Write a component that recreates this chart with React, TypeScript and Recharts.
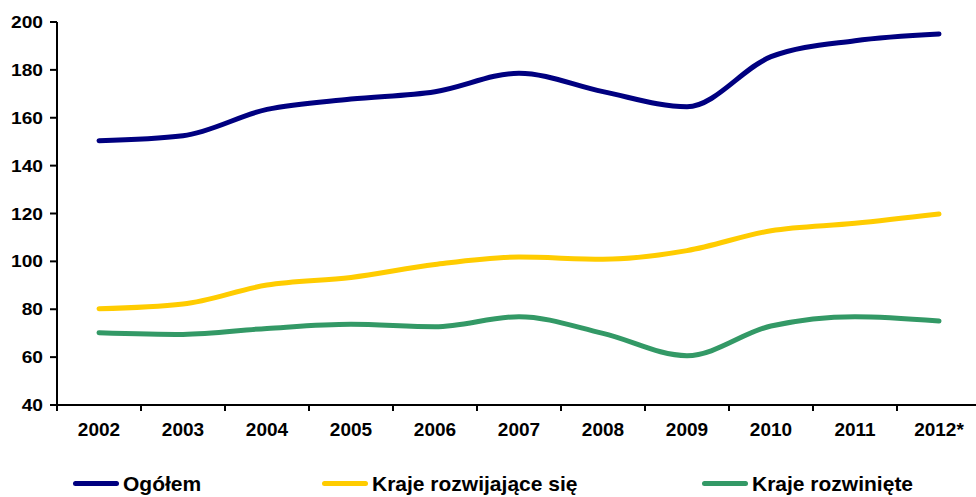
import React from "react";
import { LineChart, Line, XAxis, YAxis, Legend } from "recharts";

const years = ["2002", "2003", "2004", "2005", "2006", "2007", "2008", "2009", "2010", "2011", "2012*"];
const ogolem = [150.4, 152.5, 163.5, 167.8, 170.9, 178.6, 170.9, 164.6, 185.5, 192.2, 195];
const rozwijajace = [80.2, 82.2, 90.1, 93.3, 98.7, 101.8, 100.9, 104.5, 112.8, 115.9, 119.8];
const rozwiniete = [70.2, 69.5, 72, 73.7, 72.7, 76.9, 69.9, 60.6, 73, 76.9, 75.1];
const yTicks = [40, 60, 80, 100, 120, 140, 160, 180, 200];
const seriesNames = ["Ogółem", "Kraje rozwijające się", "Kraje rozwinięte"];
const seriesColors = ["#000080", "#FFCC00", "#339966"];

const data = years.map((y, i) => ({
  x: i + 0.5,
  year: y,
  ogolem: ogolem[i],
  rozwijajace: rozwijajace[i],
  rozwiniete: rozwiniete[i],
}));

const CHART_W = 981;
const CHART_H = 497;
const Y_AXIS_W = 57;
const BAND = (CHART_W - Y_AXIS_W) / years.length;
const FONT = "'Liberation Sans', Arial, sans-serif";

const YTick = (props: any) => {
  const { x, y, payload } = props;
  return (
    <g transform={`translate(${x - 5},${y})`}>
      <text
        transform="scale(1.13,1)"
        textAnchor="end"
        dy="0.36em"
        fontFamily={FONT}
        fontWeight="bold"
        fontSize={17}
        fill="#000"
      >
        {payload.value}
      </text>
    </g>
  );
};

const XTick = (props: any) => {
  const { x, y, payload } = props;
  const idx = Math.round(payload.value);
  if (idx >= years.length) return null;
  return (
    <text
      x={x + BAND / 2}
      y={y + 22.7}
      textAnchor="middle"
      fontFamily={FONT}
      fontWeight="bold"
      fontSize={19}
      fill="#000"
    >
      {years[idx]}
    </text>
  );
};

const legendLefts = [73, 322, 702];

const LegendContent = () => (
  <div style={{ position: "relative", width: 976, height: 41 }}>
    {seriesNames.map((name, i) => (
      <React.Fragment key={name}>
        <div
          style={{
            position: "absolute",
            left: legendLefts[i],
            top: 25,
            width: 46,
            height: 5,
            borderRadius: 3,
            background: seriesColors[i],
          }}
        />
        <div
          style={{
            position: "absolute",
            left: legendLefts[i] + 50,
            top: 16,
            fontFamily: FONT,
            fontWeight: "bold",
            fontSize: 21,
            lineHeight: "23px",
            color: "#000",
            whiteSpace: "nowrap",
          }}
        >
          {name}
        </div>
      </React.Fragment>
    ))}
  </div>
);

export default function App() {
  return (
    <div
      style={{
        position: "absolute",
        left: 0,
        top: 0,
        width: 976,
        height: 497,
        overflow: "hidden",
        background: "#fff",
      }}
    >
      <LineChart width={CHART_W} height={CHART_H} data={data} margin={{ top: 22, right: 0, left: 0, bottom: 0 }}>
        <XAxis
          type="number"
          dataKey="x"
          domain={[0, years.length]}
          ticks={years.map((_, i) => i).concat([years.length])}
          tick={<XTick />}
          tickSize={6}
          height={51}
          axisLine={{ stroke: "#000", strokeWidth: 2 }}
          tickLine={{ stroke: "#000", strokeWidth: 2 }}
          interval={0}
        />
        <YAxis
          domain={[40, 200]}
          ticks={yTicks}
          width={Y_AXIS_W}
          tick={<YTick />}
          tickSize={7}
          axisLine={{ stroke: "#000", strokeWidth: 2 }}
          tickLine={{ stroke: "#000", strokeWidth: 2 }}
          interval={0}
        />
        <Legend
          verticalAlign="bottom"
          content={<LegendContent />}
          wrapperStyle={{ left: 0, width: 976, height: 41 }}
        />
        <Line type="monotone" dataKey="ogolem" name={seriesNames[0]} stroke={seriesColors[0]} strokeWidth={5} dot={false} strokeLinecap="round" isAnimationActive={false} />
        <Line type="monotone" dataKey="rozwijajace" name={seriesNames[1]} stroke={seriesColors[1]} strokeWidth={5} dot={false} strokeLinecap="round" isAnimationActive={false} />
        <Line type="monotone" dataKey="rozwiniete" name={seriesNames[2]} stroke={seriesColors[2]} strokeWidth={5} dot={false} strokeLinecap="round" isAnimationActive={false} />
      </LineChart>
    </div>
  );
}
